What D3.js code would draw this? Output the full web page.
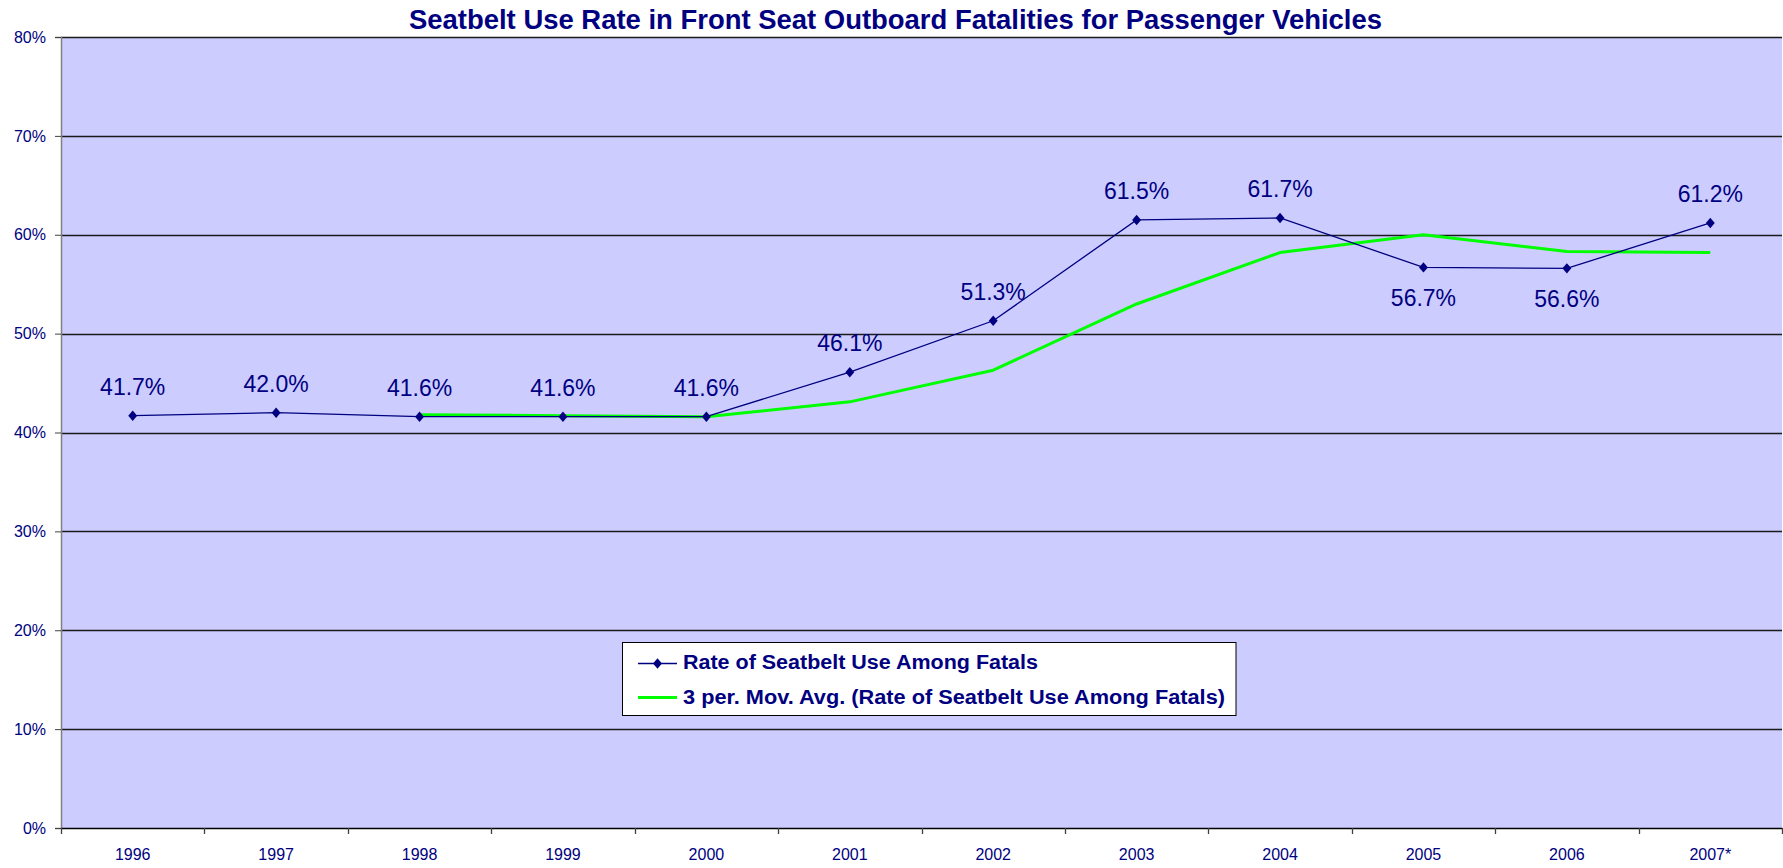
<!DOCTYPE html>
<html>
<head>
<meta charset="utf-8">
<script src="https://cdn.jsdelivr.net/npm/d3@7"></script>
<style>
  html, body { margin: 0; padding: 0; background: #fff; }
  svg { display: block; }
  text { font-family: "Liberation Sans", Arial, sans-serif; fill: #000080; }
</style>
</head>
<body>
<svg id="chart" width="1783" height="868"></svg>
<script>
// ---- data ----
const categories = ["1996","1997","1998","1999","2000","2001","2002","2003","2004","2005","2006","2007*"];
const rateValues = [41.7, 42.0, 41.6, 41.6, 41.6, 46.1, 51.3, 61.5, 61.7, 56.7, 56.6, 61.2];
const movAvgCategories = ["1998","1999","2000","2001","2002","2003","2004","2005","2006","2007*"];
const movAvgValues = [41.8, 41.7, 41.6, 43.1, 46.3, 53.0, 58.2, 60.0, 58.3, 58.2];
const yTicks = [0, 10, 20, 30, 40, 50, 60, 70, 80];
const labelsBelow = ["2005", "2006"];
const titleText = "Seatbelt Use Rate in Front Seat Outboard Fatalities for Passenger Vehicles";
const seriesNames = ["Rate of Seatbelt Use Among Fatals", "3 per. Mov. Avg. (Rate of Seatbelt Use Among Fatals)"];

// ---- layout ----
const svg = d3.select("#chart");
const plot = { left: 61, right: 1782, top: 37, bottom: 828 };
const navy = "#000080";
const green = "#00FF00";

const x = d3.scaleBand().domain(categories).range([plot.left, plot.right]).padding(0);
const y = d3.scaleLinear().domain([0, 80]).range([plot.bottom, plot.top]);
const cx = c => x(c) + x.bandwidth() / 2;

// plot background
svg.append("rect")
  .attr("x", plot.left).attr("y", plot.top)
  .attr("width", plot.right - plot.left).attr("height", plot.bottom - plot.top)
  .attr("fill", "#CCCCFF");

// gridlines
svg.append("g").selectAll("line").data(yTicks.filter(d => d > 0)).join("line")
  .attr("x1", plot.left).attr("x2", plot.right)
  .attr("y1", d => Math.round(y(d)) + 0.5).attr("y2", d => Math.round(y(d)) + 0.5)
  .attr("stroke", "#1a1a1a").attr("stroke-width", 1.3);

// y axis
const yAxis = d3.axisLeft(y).tickValues(yTicks).tickFormat(d => d + "%").tickSize(6).tickPadding(9);
const gy = svg.append("g").attr("transform", `translate(${plot.left},0)`).call(yAxis);
gy.select(".domain").attr("stroke", "#808080").attr("stroke-width", 1.5);
gy.selectAll(".tick line").attr("stroke", "#404040");
gy.selectAll(".tick text").attr("font-size", 16).attr("fill", navy)
  .attr("font-family", "Liberation Sans, Arial, sans-serif");

// x axis (labels at band centres, ticks at boundaries)
const xAxis = d3.axisBottom(x).tickSize(0).tickPadding(0).tickSizeOuter(0);
const gx = svg.append("g").attr("transform", `translate(0,${plot.bottom})`).call(xAxis);
gx.select(".domain").attr("stroke", "#000").attr("stroke-width", 1.3);
gx.selectAll(".tick text").attr("font-size", 16).attr("fill", navy)
  .attr("font-family", "Liberation Sans, Arial, sans-serif")
  .attr("dy", null).attr("y", 32);
const boundaries = categories.map(c => x(c)).concat([x(categories[categories.length - 1]) + x.bandwidth()]);
svg.append("g").selectAll("line").data(boundaries).join("line")
  .attr("x1", d => Math.round(d) + 0.5).attr("x2", d => Math.round(d) + 0.5)
  .attr("y1", plot.bottom).attr("y2", plot.bottom + 6)
  .attr("stroke", "#404040").attr("stroke-width", 1.3);

// moving average line
const maData = movAvgCategories.map((c, i) => ({ c, v: movAvgValues[i] }));
svg.append("path").datum(maData)
  .attr("d", d3.line().x(d => cx(d.c)).y(d => y(d.v)))
  .attr("fill", "none").attr("stroke", green).attr("stroke-width", 3)
  .attr("stroke-linejoin", "round");

// rate line
const rateData = categories.map((c, i) => ({ c, v: rateValues[i] }));
svg.append("path").datum(rateData)
  .attr("d", d3.line().x(d => cx(d.c)).y(d => y(d.v)))
  .attr("fill", "none").attr("stroke", navy).attr("stroke-width", 1.3);

const diamond = d3.symbol().type(d3.symbolDiamond2).size(70);
svg.append("g").selectAll("path").data(rateData).join("path")
  .attr("transform", d => `translate(${cx(d.c)},${y(d.v)}) scale(0.85,1)`)
  .attr("d", diamond).attr("fill", navy);

// data labels
svg.append("g").selectAll("text").data(rateData).join("text")
  .attr("x", d => cx(d.c))
  .attr("y", d => labelsBelow.includes(d.c) ? y(d.v) + 38.8 : y(d.v) - 20.8)
  .attr("text-anchor", "middle").attr("font-size", 23).attr("fill", navy)
  .text(d => d.v.toFixed(1) + "%");

// title
svg.append("text")
  .attr("x", 895.5).attr("y", 28.5).attr("text-anchor", "middle")
  .attr("font-size", 27.5).attr("font-weight", "bold").attr("fill", navy)
  .attr("textLength", 973).attr("lengthAdjust", "spacingAndGlyphs")
  .text(titleText);

// legend
const lg = svg.append("g");
lg.append("rect").attr("x", 622.5).attr("y", 642.5).attr("width", 613.5).attr("height", 73)
  .attr("fill", "#fff").attr("stroke", "#000").attr("stroke-width", 1);
lg.append("line").attr("x1", 638).attr("x2", 677).attr("y1", 663.5).attr("y2", 663.5)
  .attr("stroke", navy).attr("stroke-width", 1.3);
lg.append("path").attr("transform", "translate(657.5,663.5) scale(0.85,1)").attr("d", diamond).attr("fill", navy);
lg.append("line").attr("x1", 638).attr("x2", 677).attr("y1", 697.5).attr("y2", 697.5)
  .attr("stroke", green).attr("stroke-width", 3);
lg.append("text").attr("x", 683).attr("y", 669).attr("font-size", 20).attr("font-weight", "bold")
  .attr("fill", navy).attr("textLength", 355).attr("lengthAdjust", "spacingAndGlyphs").text(seriesNames[0]);
lg.append("text").attr("x", 683).attr("y", 704).attr("font-size", 20).attr("font-weight", "bold")
  .attr("fill", navy).attr("textLength", 542).attr("lengthAdjust", "spacingAndGlyphs").text(seriesNames[1]);
</script>
</body>
</html>
